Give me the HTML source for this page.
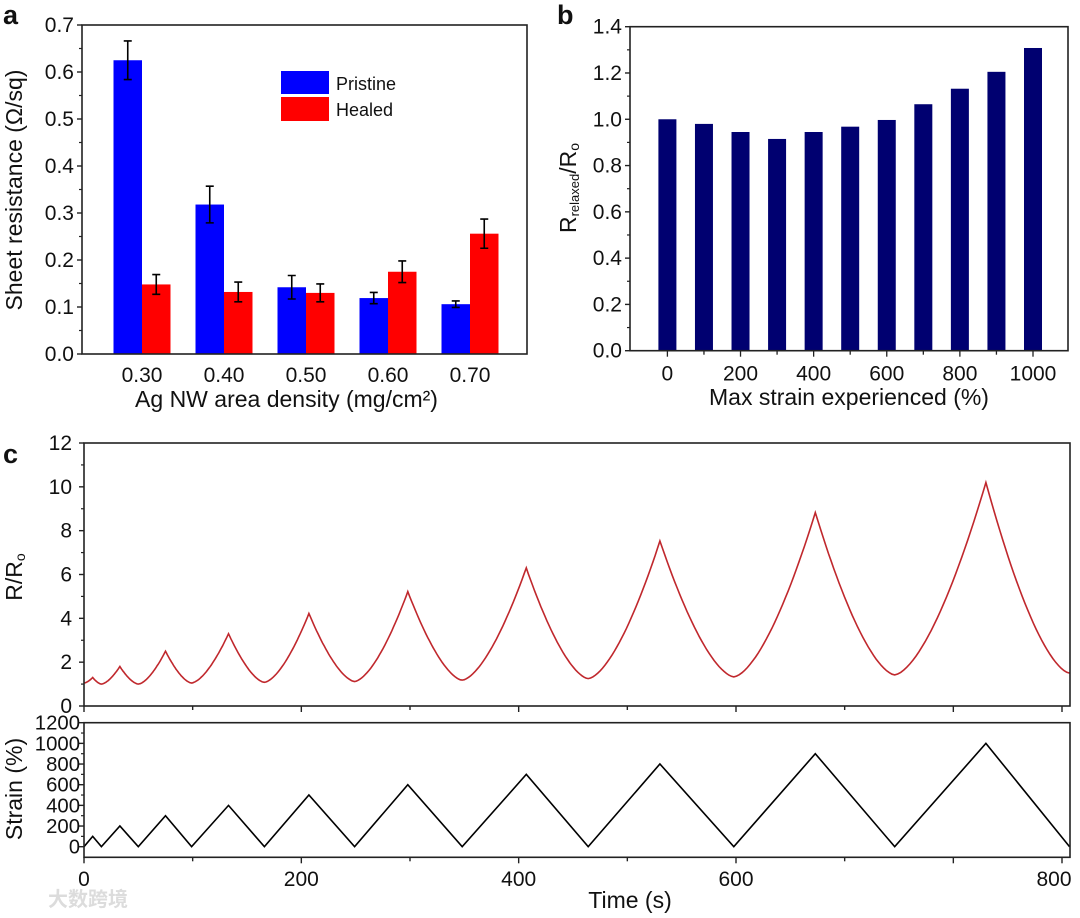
<!DOCTYPE html>
<html><head><meta charset="utf-8"><style>
html,body{margin:0;padding:0;background:#fff;}
svg{display:block;font-family:"Liberation Sans","Noto Sans CJK SC",sans-serif;}
</style></head><body>
<svg id="fig" width="1080" height="918" viewBox="0 0 1080 918" xmlns="http://www.w3.org/2000/svg"></svg>
<script>
// ---- Panel a data ----
const aCategories = ["0.30","0.40","0.50","0.60","0.70"];
const aPristine = [0.625,0.318,0.142,0.119,0.106];
const aPristineErr = [0.041,0.039,0.025,0.012,0.007];
const aHealed = [0.148,0.132,0.130,0.175,0.256];
const aHealedErr = [0.021,0.021,0.019,0.023,0.031];
const aYTicks = [0,0.1,0.2,0.3,0.4,0.5,0.6,0.7];
// ---- Panel b data ----
const bCategories = [0,100,200,300,400,500,600,700,800,900,1000];
const bValues = [1.0,0.98,0.945,0.915,0.945,0.968,0.997,1.065,1.132,1.205,1.308];
const bXTicks = [0,200,400,600,800,1000];
const bYTicks = [0,0.2,0.4,0.6,0.8,1.0,1.2,1.4];
// ---- Panel c data ----
const cPeakTimes = [8,33,75,133,207,298,407,530,673,830];
const cStrainPeaks = [100,200,300,400,500,600,700,800,900,1000];
const cMinTimes = [0,16,50,99,166,249,348,464,598,746,907];
const cRPeaks = [1.3,1.8,2.5,3.3,4.22,5.22,6.3,7.53,8.83,10.2];
const cRMins = [1.05,1.0,1.0,1.05,1.08,1.12,1.18,1.25,1.33,1.42,1.5];
const cXTickVals = [0,200,400,600,900];
const cXTickLabels = ["0","200","400","600","800"];
const cRYTicks = [0,2,4,6,8,10,12];
const cSYTicks = [0,200,400,600,800,1000,1200];

const NS="http://www.w3.org/2000/svg";
const svg=document.getElementById('fig');
function mk(tag,attrs,parent){const e=document.createElementNS(NS,tag);for(const k in attrs)e.setAttribute(k,attrs[k]);(parent||svg).appendChild(e);return e;}
function txt(s,x,y,size,anchor,parent,extra){const t=mk('text',Object.assign({x:x,y:y,'font-size':size,'text-anchor':anchor||'middle',fill:'#111'},extra||{}),parent);t.textContent=s;return t;}

// ================= Panel a =================
(function(){
 const L=82,R=527,T=25,B=354;
 const y=v=>B-(v/0.7)*(B-T);
 const xc=i=>142+82*i;
 const bw=28.5;
 const g=mk('g',{});
 
 
 aCategories.forEach((c,i)=>{
  const p=mk('rect',{x:xc(i)-bw,y:y(aPristine[i]),width:bw,height:B-y(aPristine[i]),fill:'#0000ff'},g);
  
  
  const h=mk('rect',{x:xc(i),y:y(aHealed[i]),width:bw,height:B-y(aHealed[i]),fill:'#ff0000'},g);
  
  
  [[xc(i)-bw/2,aPristine[i],aPristineErr[i]],[xc(i)+bw/2,aHealed[i],aHealedErr[i]]].forEach(([cx,v,e])=>{
   const eb=mk('path',{d:`M${cx},${y(v+e)}V${y(v-e)}M${cx-4},${y(v+e)}H${cx+4}M${cx-4},${y(v-e)}H${cx+4}`,stroke:'#000','stroke-width':1.6,fill:'none'},g);
   
   
  });
  const tl=txt(c,xc(i),y(0)+28,21,'middle',g);
  
  
 });
 mk('rect',{x:L,y:T,width:R-L,height:B-T,fill:'none',stroke:'#222','stroke-width':1.6},g);
 aYTicks.forEach(v=>{
  mk('line',{x1:L-5,x2:L,y1:y(v),y2:y(v),stroke:'#222','stroke-width':1.4},g);
  if(v<0.7) mk('line',{x1:L-3,x2:L,y1:y(v+0.05),y2:y(v+0.05),stroke:'#222','stroke-width':1.2},g);
  const tl=txt(v.toFixed(1),L-8,y(v)+7,21,'end',g);
  
  
 });
 const xt=txt('Ag NW area density (mg/cm²)',(L+R)/2-18,407,23,'middle',g);
 
 
 const yt=txt('Sheet resistance (Ω/sq)',0,0,23,'middle',g,{transform:'translate(22,190) rotate(-90)'});
 
 
 const l1=mk('rect',{x:281,y:71,width:48,height:23,fill:'#0000ff'},g);
 
 
 const l2=mk('rect',{x:281,y:97,width:48,height:24,fill:'#ff0000'},g);
 
 
 const t1=txt('Pristine',336,90,18,'start',g);
 
 
 const t2=txt('Healed',336,116,18,'start',g);
 
 
 const lab=txt('a',3,24,27,'start',g,{'font-weight':'bold'});
 
 
})();

// ================= Panel b =================
(function(){
 const L=630,R=1068,T=26.7,B=350.7;
 const y=v=>B-(v/1.4)*(B-T);
 const x=v=>667.4+(v/1000)*(1033-667.4);
 const bw=18;
 const g=mk('g',{});
 
 
 bCategories.forEach((c,i)=>{
  const r=mk('rect',{x:x(c)-bw/2,y:y(bValues[i]),width:bw,height:B-y(bValues[i]),fill:'#000070'},g);
  
  
  mk('line',{x1:x(c),x2:x(c),y1:B,y2:B+(c%200===0?6:4),stroke:'#222','stroke-width':1.3},g);
 });
 mk('rect',{x:L,y:T,width:R-L,height:B-T,fill:'none',stroke:'#222','stroke-width':1.6},g);
 bXTicks.forEach(v=>{
  const tl=txt(String(v),x(v),B+30,21,'middle',g);
  
  
 });
 bYTicks.forEach(v=>{
  mk('line',{x1:L-5,x2:L,y1:y(v),y2:y(v),stroke:'#222','stroke-width':1.4},g);
  if(v<1.4) mk('line',{x1:L-3,x2:L,y1:y(v+0.1),y2:y(v+0.1),stroke:'#222','stroke-width':1.2},g);
  const tl=txt(v.toFixed(1),L-8,y(v)+7,21,'end',g);
  
  
 });
 const xt=txt('Max strain experienced (%)',(L+R)/2,405,23,'middle',g);
 
 
 const yt=mk('text',{transform:'translate(576,188) rotate(-90)','text-anchor':'middle','font-size':23,fill:'#111'},g);
 
 
 yt.innerHTML='R<tspan font-size="13" dy="3">relaxed</tspan><tspan dy="-3">/R</tspan><tspan font-size="14" dy="3">o</tspan>';
 const lab=txt('b',557,24,27,'start',g,{'font-weight':'bold'});
 
 
})();

// ================= Panel c =================
(function(){
 const L=84,R=1070;
 const x=t=>L+t*((1062-84)/900);
 const T1=443,B1=706;
 const yr=v=>B1-(v/12)*(B1-T1);
 const T2=722.7,B2=857.3,Z2=846.7;
 const ys=v=>Z2-(v/1200)*(Z2-T2);
 const g=mk('g',{});
 
 
 let pts=[];
 for(let k=0;k<cPeakTimes.length;k++){
  const t0=cMinTimes[k],v0=cRMins[k],t1=cPeakTimes[k],v1=cRPeaks[k],t2=cMinTimes[k+1],v2=cRMins[k+1];
  const n=30;
  for(let j=0;j<=n;j++){const u=j/n;pts.push([t0+(t1-t0)*u,v0+(v1-v0)*Math.pow(u,1.6)]);}
  for(let j=1;j<=n;j++){const u=j/n;pts.push([t1+(t2-t1)*u,v2+(v1-v2)*Math.pow(1-u,1.6)]);}
 }
 const rl=mk('path',{d:'M'+pts.map(p=>x(p[0]).toFixed(1)+','+yr(p[1]).toFixed(1)).join('L'),fill:'none',stroke:'#c0282d','stroke-width':1.6},g);
 
 
 let sp=[[cMinTimes[0],0]];
 for(let k=0;k<cPeakTimes.length;k++){sp.push([cPeakTimes[k],cStrainPeaks[k]]);sp.push([cMinTimes[k+1],0]);}
 const sl=mk('path',{d:'M'+sp.map(p=>x(p[0]).toFixed(1)+','+ys(p[1]).toFixed(1)).join('L'),fill:'none',stroke:'#000','stroke-width':1.6},g);
 
 
 mk('rect',{x:L,y:T1,width:R-L,height:B1-T1,fill:'none',stroke:'#222','stroke-width':1.6},g);
 mk('rect',{x:L,y:T2,width:R-L,height:B2-T2,fill:'none',stroke:'#222','stroke-width':1.6},g);
 for(let t=0;t<=900;t+=100){
  const big=(t%200===0)||t===900;
  mk('line',{x1:x(t),x2:x(t),y1:B1,y2:B1+(big?6:4),stroke:'#222','stroke-width':1.4},g);
  mk('line',{x1:x(t),x2:x(t),y1:B2,y2:B2+(big?6:4),stroke:'#222','stroke-width':1.4},g);
 }
 cXTickVals.forEach((v,i)=>{
  const tl=txt(cXTickLabels[i],x(v)-(i===4?8:0),886,21,'middle',g);
  
  
 });
 cRYTicks.forEach(v=>{
  mk('line',{x1:L-5,x2:L,y1:yr(v),y2:yr(v),stroke:'#222','stroke-width':1.4},g);
  if(v<12) mk('line',{x1:L-3,x2:L,y1:yr(v+1),y2:yr(v+1),stroke:'#222','stroke-width':1.2},g);
  const tl=txt(String(v),L-12,yr(v)+7,21,'end',g);
  
  
 });
 cSYTicks.forEach(v=>{
  mk('line',{x1:L-5,x2:L,y1:ys(v),y2:ys(v),stroke:'#222','stroke-width':1.4},g);
  if(v<1200) mk('line',{x1:L-3,x2:L,y1:ys(v+100),y2:ys(v+100),stroke:'#222','stroke-width':1.2},g);
  const s=String(v);
  const extra={};
  if(s.length>1){extra.textLength=s.length*11.3;extra.lengthAdjust='spacingAndGlyphs';}
  const tl=txt(s,L-4,ys(v)+7,20,'end',g,extra);
  
  
 });
 const rt=mk('text',{transform:'translate(22,577) rotate(-90)','text-anchor':'middle','font-size':23,fill:'#111'},g);
 
 
 rt.innerHTML='R/R<tspan font-size="14" dy="3">o</tspan>';
 const st=txt('Strain (%)',0,0,23,'middle',g,{transform:'translate(22,789) rotate(-90)'});
 
 
 const xt=txt('Time (s)',630,908,23,'middle',g);
 
 
 const lab=txt('c',3,463,27,'start',g,{'font-weight':'bold'});
 
 
 const wm=txt('大数跨境',48,906,20,'start',g,{fill:'#dcdcdc','font-weight':'bold'});
 
 
})();
</script>
</body></html>
